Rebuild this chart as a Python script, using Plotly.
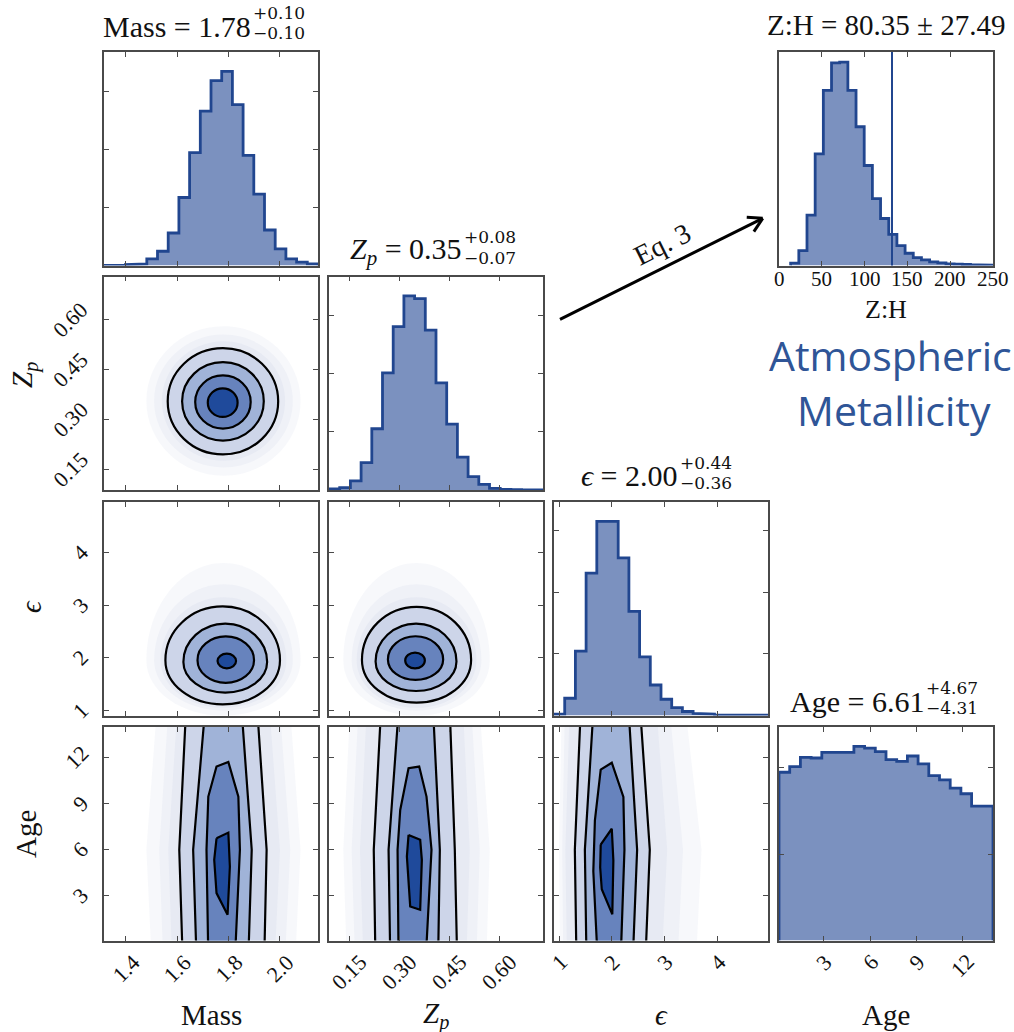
import numpy as np
import plotly.graph_objects as go

W, H = 1014, 1032   # reference canvas (all layout positions are fractions of it)

# ------------------------------------------------------------------ data
MEDIAN = ["1.78", "0.35", "2.00", "6.61"]
ERR_UP = ["+0.10", "+0.08", "+0.44", "+4.67"]
ERR_DN = ["\u22120.10", "\u22120.07", "\u22120.36", "\u22124.31"]
TITLE_NAMES = ["Mass", "<i>Z</i><sub><i>p</i></sub>", "<i>\u03f5</i>", "Age"]
AXIS_LABELS = ["Mass", "<i>Z</i><sub><i>p</i></sub>", "<i>\u03f5</i>", "Age"]

MASS_RANGE = [1.315, 2.148]
ZP_RANGE = [0.087, 0.730]
EPS_RANGE = [0.905, 4.96]
AGE_RANGE = [0.1, 13.97]

MASS_TICKS = [1.4, 1.6, 1.8, 2.0]
MASS_TICKTEXT = ["1.4", "1.6", "1.8", "2.0"]
ZP_TICKS = [0.15, 0.30, 0.45, 0.60]
ZP_TICKTEXT = ["0.15", "0.30", "0.45", "0.60"]
EPS_TICKS = [1, 2, 3, 4]
EPS_TICKTEXT = ["1", "2", "3", "4"]
AGE_TICKS = [3, 6, 9, 12]
AGE_TICKTEXT = ["3", "6", "9", "12"]

# 1-D histograms (20 bins spanning each axis range), counts in arbitrary units
MASS_HIST = [0, 1, 3, 5, 20, 43, 98, 205, 340, 465, 557, 585, 485, 332, 215, 107, 50, 20, 10, 5]
ZP_HIST = [3, 7, 27, 82, 183, 350, 488, 580, 572, 478, 320, 197, 98, 40, 17, 5, 2, 1, 0, 0]
EPS_HIST = [4, 52, 194, 429, 585, 585, 475, 314, 177, 92, 49, 24, 12, 6, 4, 2, 2, 1, 1, 1]
AGE_HIST = [508, 525, 553, 551, 568, 568, 568, 586, 581, 570, 546, 541, 557, 533, 498, 485, 460, 443, 406, 406]
MASS_HIST_YTICKS = [175, 350, 525]
ZP_HIST_YTICKS = [174, 348, 522]
EPS_HIST_YTICKS = [186, 372, 558]
AGE_HIST_YTICKS = [261, 522]

# Z:H derived histogram
ZH_TITLE = "Z:H = 80.35 \u00b1 27.49"
ZH_BIN_START = 13.6
ZH_BIN_WIDTH = 9.55
ZH_HIST = [7, 45, 152, 337, 529, 612, 614, 529, 419, 302, 202, 142, 94, 60, 37, 24, 17, 11, 8, 5, 4, 3, 2, 2, 1]
ZH_RANGE = [0, 250]
ZH_TICKS = [0, 50, 100, 150, 200, 250]
ZH_TICKTEXT = ["0", "50", "100", "150", "200", "250"]
ZH_MARK = 132

# 2-D credible contours (outer -> inner):
# centre x, y of widest point, half-width x, extent above, extent below
MASS_ZP_CONT = [(1.778, 0.354, 0.215, 0.160, 0.160), (1.778, 0.354, 0.159, 0.118, 0.118),
                (1.778, 0.352, 0.108, 0.080, 0.080), (1.777, 0.350, 0.058, 0.043, 0.043)]
MASS_EPS_CONT = [(1.777, 1.956, 0.223, 1.02, 0.84), (1.787, 1.92, 0.163, 0.73, 0.58),
                 (1.789, 1.956, 0.110, 0.45, 0.43), (1.793, 1.94, 0.036, 0.14, 0.14)]
ZP_EPS_CONT = [(0.350, 1.96, 0.164, 1.01, 0.81), (0.3485, 1.93, 0.1215, 0.72, 0.56),
               (0.347, 1.97, 0.083, 0.44, 0.39), (0.3455, 1.95, 0.0295, 0.15, 0.15)]
# faint sample clouds around the contours
MASS_ZP_HALO = [(1.78, 0.355, 0.30, 0.225, 0.225), (1.78, 0.355, 0.27, 0.20, 0.20),
                (1.78, 0.355, 0.24, 0.18, 0.18)]
MASS_EPS_HALO = [(1.78, 1.95, 0.30, 1.85, 1.05), (1.78, 1.95, 0.27, 1.45, 0.95),
                 (1.78, 1.95, 0.245, 1.2, 0.9)]
ZP_EPS_HALO = [(0.35, 1.95, 0.22, 1.85, 1.05), (0.35, 1.95, 0.195, 1.45, 0.95),
               (0.35, 1.95, 0.18, 1.2, 0.9)]

# Age columns: open bands (left/right edge at ages AGE_BAND_AGES) and closed inner regions
AGE_BAND_AGES = [-1.0, 6.0, 15.0]
MASS_AGE_BANDS = [([1.621, 1.608, 1.634], [1.939, 1.948, 1.912]),
                  ([1.675, 1.662, 1.708], [1.877, 1.890, 1.851])]
MASS_AGE_L2 = ([1.721, 1.714, 1.721, 1.753, 1.799, 1.838, 1.844, 1.825],
               [-1.0, 6.0, 9.45, 11.4, 11.7, 9.45, 6.0, -1.0])
MASS_AGE_L1 = ([1.753, 1.799, 1.805, 1.796, 1.753, 1.744],
               [6.74, 7.11, 4.9, 1.77, 3.18, 5.34])
MASS_AGE_HALO = [([1.50, 1.48, 1.52], [2.06, 2.08, 2.04]), ([1.545, 1.53, 1.565], [2.02, 2.04, 2.0]),
                 ([1.58, 1.565, 1.60], [1.98, 2.00, 1.96])]

ZP_AGE_BANDS = [([0.2265, 0.2215, 0.243], [0.472, 0.465, 0.450]),
                ([0.271, 0.266, 0.296], [0.415, 0.420, 0.400])]
ZP_AGE_L2 = ([0.296, 0.293, 0.301, 0.326, 0.358, 0.380, 0.395, 0.378],
             [-1.0, 6.0, 8.58, 11.29, 11.4, 9.45, 6.0, -1.0])
ZP_AGE_L1 = ([0.326, 0.361, 0.366, 0.361, 0.331, 0.321],
             [6.96, 6.64, 5.34, 2.1, 2.31, 5.55])
ZP_AGE_HALO = [([0.14, 0.13, 0.15], [0.56, 0.57, 0.54]), ([0.165, 0.155, 0.175], [0.53, 0.54, 0.515]),
               ([0.19, 0.18, 0.20], [0.50, 0.51, 0.49])]

EPS_AGE_BANDS = [([1.33, 1.30, 1.41], [2.64, 2.72, 2.54]),
                 ([1.52, 1.49, 1.65], [2.40, 2.48, 2.32])]
EPS_AGE_L2 = ([1.73, 1.65, 1.68, 1.79, 2.00, 2.22, 2.24, 2.17],
              [-1.0, 4.6, 7.9, 11.2, 11.65, 9.43, 6.0, -1.0])
EPS_AGE_L1 = ([1.79, 2.00, 2.03, 2.01, 1.81, 1.78],
              [6.33, 7.36, 5.29, 1.80, 3.43, 4.85])
EPS_AGE_HALO = [([1.02, 1.0, 1.05], [3.6, 3.7, 3.4]), ([1.08, 1.06, 1.11], [3.25, 3.35, 3.1]),
                ([1.15, 1.12, 1.2], [2.95, 3.05, 2.85])]

# ------------------------------------------------------------------ style
SERIF = "Liberation Serif, DejaVu Serif, serif"
SUPFONT = "DejaVu Serif, serif"
SANS = "Open Sans, Noto Sans, sans-serif"
HIST_FILL = "#7b91bf"
HIST_LINE = "#21468f"
LEVEL_FILLS = ["#cdd5e9", "#a0b3d8", "#6783bd", "#1f4a9b"]
HALO = "rgba(70,100,170,0.045)"
FRAME = "#4a4a4a"

COL_LEFT = [104, 329, 554, 779]
ROW_TOP = [52, 276.5, 502, 727]
PW, PH = 214, 213.5


def px(x):
    return x / W


def py(y):
    return 1 - y / H


fig = go.Figure()
shapes = []
annotations = []


def add_axes(n, row, col, xr, yr, xt, yt):
    s = "" if n == 1 else str(n)
    common = dict(showgrid=False, zeroline=False, showline=True, linecolor=FRAME,
                  linewidth=1.6, mirror="allticks", ticks="inside", ticklen=5,
                  tickwidth=1.3, tickcolor=FRAME, showticklabels=False, fixedrange=True)
    x0 = COL_LEFT[col]
    y0 = ROW_TOP[row]
    xa = dict(domain=[px(x0), px(x0 + PW)], anchor="y" + s, range=xr, tickvals=xt, **common)
    ya = dict(domain=[py(y0 + PH), py(y0)], anchor="x" + s, range=yr, tickvals=yt, **common)
    fig.update_layout(**{"xaxis" + s: xa, "yaxis" + s: ya})
    return "x" + s, "y" + s


def step_hist(edges, counts, xa, ya):
    xs, ys = [edges[0]], [0]
    for i, c in enumerate(counts):
        xs += [edges[i], edges[i + 1]]
        ys += [c, c]
    xs.append(edges[-1])
    ys.append(0)
    fig.add_trace(go.Scatter(x=xs, y=ys, mode="lines", fill="toself", fillcolor=HIST_FILL,
                             line=dict(color=HIST_LINE, width=2.8), xaxis=xa, yaxis=ya,
                             hoverinfo="skip"))


K = 0.5523  # cubic-Bezier quarter-ellipse constant


def egg_path(cx, cy, hx, up, dn):
    t, b = cy + up, cy - dn
    return (f"M {cx},{t} "
            f"C {cx + K * hx},{t} {cx + hx},{cy + K * up} {cx + hx},{cy} "
            f"C {cx + hx},{cy - K * dn} {cx + K * hx},{b} {cx},{b} "
            f"C {cx - K * hx},{b} {cx - hx},{cy - K * dn} {cx - hx},{cy} "
            f"C {cx - hx},{cy + K * up} {cx - K * hx},{t} {cx},{t} Z")


def contours(conts, xa, ya, fills, lines=True):
    for c, fc in zip(conts, fills):
        shapes.append(dict(type="path", xref=xa, yref=ya, path=egg_path(*c), fillcolor=fc,
                           line=dict(color="black", width=2.2 if lines else 0)))


def polygon(xs, ys, xa, ya, fc, lw=2.2):
    fig.add_trace(go.Scatter(x=list(xs) + [xs[0]], y=list(ys) + [ys[0]], mode="lines",
                             fill="toself", fillcolor=fc,
                             line=dict(color="black" if lw > 0 else "rgba(0,0,0,0)", width=max(lw, 0.1)),
                             xaxis=xa, yaxis=ya, hoverinfo="skip"))


def band(left, right, xa, ya, fc, lw=2.2):
    xs = list(left) + list(right[::-1])
    ys = AGE_BAND_AGES + AGE_BAND_AGES[::-1]
    polygon(xs, ys, xa, ya, fc, lw)


def age_panel(bands, l2, l1, halo, xa, ya):
    for h in halo:
        band(h[0], h[1], xa, ya, HALO, lw=0)
    for (lft, rgt), fc in zip(bands, LEVEL_FILLS[:2]):
        band(lft, rgt, xa, ya, fc)
    polygon(l2[0], l2[1], xa, ya, LEVEL_FILLS[2])
    polygon(l1[0], l1[1], xa, ya, LEVEL_FILLS[3])


def hist_ylim(c, f=1.1):
    return [0, max(c) * f]


# ------------------------------------------------------------------ panels
xa, ya = add_axes(1, 0, 0, MASS_RANGE, hist_ylim(MASS_HIST), MASS_TICKS, MASS_HIST_YTICKS)
step_hist(np.linspace(*MASS_RANGE, len(MASS_HIST) + 1), MASS_HIST, xa, ya)

xa, ya = add_axes(2, 0, 3, ZH_RANGE, hist_ylim(ZH_HIST, 1.05), ZH_TICKS, [])
zh_edges = ZH_BIN_START + ZH_BIN_WIDTH * np.arange(len(ZH_HIST) + 1)
step_hist(zh_edges, ZH_HIST, xa, ya)
shapes.append(dict(type="line", xref=xa, yref="y2 domain", x0=ZH_MARK, x1=ZH_MARK, y0=0, y1=1,
                   line=dict(color=HIST_LINE, width=2)))

xa, ya = add_axes(3, 1, 0, MASS_RANGE, ZP_RANGE, MASS_TICKS, ZP_TICKS)
contours(MASS_ZP_HALO, xa, ya, [HALO] * 3, lines=False)
contours(MASS_ZP_CONT, xa, ya, LEVEL_FILLS)

xa, ya = add_axes(4, 1, 1, ZP_RANGE, hist_ylim(ZP_HIST), ZP_TICKS, ZP_HIST_YTICKS)
step_hist(np.linspace(*ZP_RANGE, len(ZP_HIST) + 1), ZP_HIST, xa, ya)

xa, ya = add_axes(5, 2, 0, MASS_RANGE, EPS_RANGE, MASS_TICKS, EPS_TICKS)
contours(MASS_EPS_HALO, xa, ya, [HALO] * 3, lines=False)
contours(MASS_EPS_CONT, xa, ya, LEVEL_FILLS)

xa, ya = add_axes(6, 2, 1, ZP_RANGE, EPS_RANGE, ZP_TICKS, EPS_TICKS)
contours(ZP_EPS_HALO, xa, ya, [HALO] * 3, lines=False)
contours(ZP_EPS_CONT, xa, ya, LEVEL_FILLS)

xa, ya = add_axes(7, 2, 2, EPS_RANGE, hist_ylim(EPS_HIST), EPS_TICKS, EPS_HIST_YTICKS)
step_hist(np.linspace(*EPS_RANGE, len(EPS_HIST) + 1), EPS_HIST, xa, ya)

xa, ya = add_axes(8, 3, 0, MASS_RANGE, AGE_RANGE, MASS_TICKS, AGE_TICKS)
age_panel(MASS_AGE_BANDS, MASS_AGE_L2, MASS_AGE_L1, MASS_AGE_HALO, xa, ya)
xa, ya = add_axes(9, 3, 1, ZP_RANGE, AGE_RANGE, ZP_TICKS, AGE_TICKS)
age_panel(ZP_AGE_BANDS, ZP_AGE_L2, ZP_AGE_L1, ZP_AGE_HALO, xa, ya)
xa, ya = add_axes(10, 3, 2, EPS_RANGE, AGE_RANGE, EPS_TICKS, AGE_TICKS)
age_panel(EPS_AGE_BANDS, EPS_AGE_L2, EPS_AGE_L1, EPS_AGE_HALO, xa, ya)

xa, ya = add_axes(11, 3, 3, AGE_RANGE, hist_ylim(AGE_HIST), AGE_TICKS, AGE_HIST_YTICKS)
step_hist(np.linspace(*AGE_RANGE, len(AGE_HIST) + 1), AGE_HIST, xa, ya)


# ------------------------------------------------------------------ text
def txt(x, y, text, size=28, family=SERIF, color="#111", xanchor="center", yanchor="middle",
        angle=0, xref="paper", yref="paper"):
    annotations.append(dict(x=x, y=y, xref=xref, yref=yref, text=text, showarrow=False,
                            font=dict(family=family, size=size, color=color),
                            xanchor=xanchor, yanchor=yanchor, textangle=angle))


SPLIT = [42, 28, 19, 40]
for i in range(4):
    top = ROW_TOP[i]
    cx = COL_LEFT[i] + PW / 2 + SPLIT[i]
    txt(px(cx), py(top - 26), f"{TITLE_NAMES[i]} = {MEDIAN[i]}", size=30, xanchor="right")
    txt(px(cx - 2), py(top - 39), ERR_UP[i], size=17, family=SUPFONT, xanchor="left")
    txt(px(cx - 2), py(top - 19), ERR_DN[i], size=17, family=SUPFONT, xanchor="left")

txt(px(COL_LEFT[3] + PW / 2), py(ROW_TOP[0] - 27), ZH_TITLE, size=29)
for v, t in zip(ZH_TICKS, ZH_TICKTEXT):
    txt(v, py(ROW_TOP[0] + PH + 14), t, size=21, xref="x2")
txt(px(COL_LEFT[3] + PW / 2), py(309), "Z:H", size=26)

bottom_axes = [("x8", MASS_TICKS, MASS_TICKTEXT), ("x9", ZP_TICKS, ZP_TICKTEXT),
               ("x10", EPS_TICKS, EPS_TICKTEXT), ("x11", AGE_TICKS, AGE_TICKTEXT)]
for xr, vals, labels in bottom_axes:
    for v, t in zip(vals, labels):
        txt(v, py(ROW_TOP[3] + PH + 6), t, size=22, xref=xr, yanchor="top", angle=-45)
left_axes = [("y3", ZP_TICKS, ZP_TICKTEXT), ("y5", EPS_TICKS, EPS_TICKTEXT),
             ("y8", AGE_TICKS, AGE_TICKTEXT)]
for yr, vals, labels in left_axes:
    for v, t in zip(vals, labels):
        txt(px(COL_LEFT[0] - 8), v, t, size=22, yref=yr, xanchor="right", angle=-45)

for i in range(4):
    txt(px(COL_LEFT[i] + PW / 2), py(1015), AXIS_LABELS[i], size=29)
YLAB_POS = [(24, 375), (31, 607), (26, 834)]
for (xx, yy), lab in zip(YLAB_POS, AXIS_LABELS[1:]):
    txt(px(xx), py(yy), lab, size=29, angle=-90)

# arrow + Eq. 3
head = np.array([762.7, 218.3])
tail = np.array([560.0, 319.3])
shapes.append(dict(type="line", xref="paper", yref="paper", x0=px(tail[0]), y0=py(tail[1]),
                   x1=px(head[0]), y1=py(head[1]), line=dict(color="black", width=3)))
d = (head - tail) / np.linalg.norm(head - tail)
for sgn in (1, -1):
    a = np.deg2rad(30) * sgn
    rot = np.array([d[0] * np.cos(a) - d[1] * np.sin(a), d[0] * np.sin(a) + d[1] * np.cos(a)])
    p2 = head - 16 * rot
    shapes.append(dict(type="line", xref="paper", yref="paper", x0=px(head[0]), y0=py(head[1]),
                       x1=px(p2[0]), y1=py(p2[1]), line=dict(color="black", width=3)))
txt(px(662), py(245), "Eq. 3", size=28, angle=-26.5)

txt(px(890), py(355), "Atmospheric", size=41, family=SANS, color="#2f5597")
txt(px(894), py(410), "Metallicity", size=41, family=SANS, color="#2f5597")

fig.update_layout(autosize=True, margin=dict(l=0, r=0, t=0, b=0),
                  paper_bgcolor="white", plot_bgcolor="white", showlegend=False,
                  shapes=shapes, annotations=annotations)
fig.write_html("out.html", default_width="100vw", default_height="100vh",
               config={"displayModeBar": False},
               post_script="document.body.style.margin='0';document.body.style.overflow='hidden';")
